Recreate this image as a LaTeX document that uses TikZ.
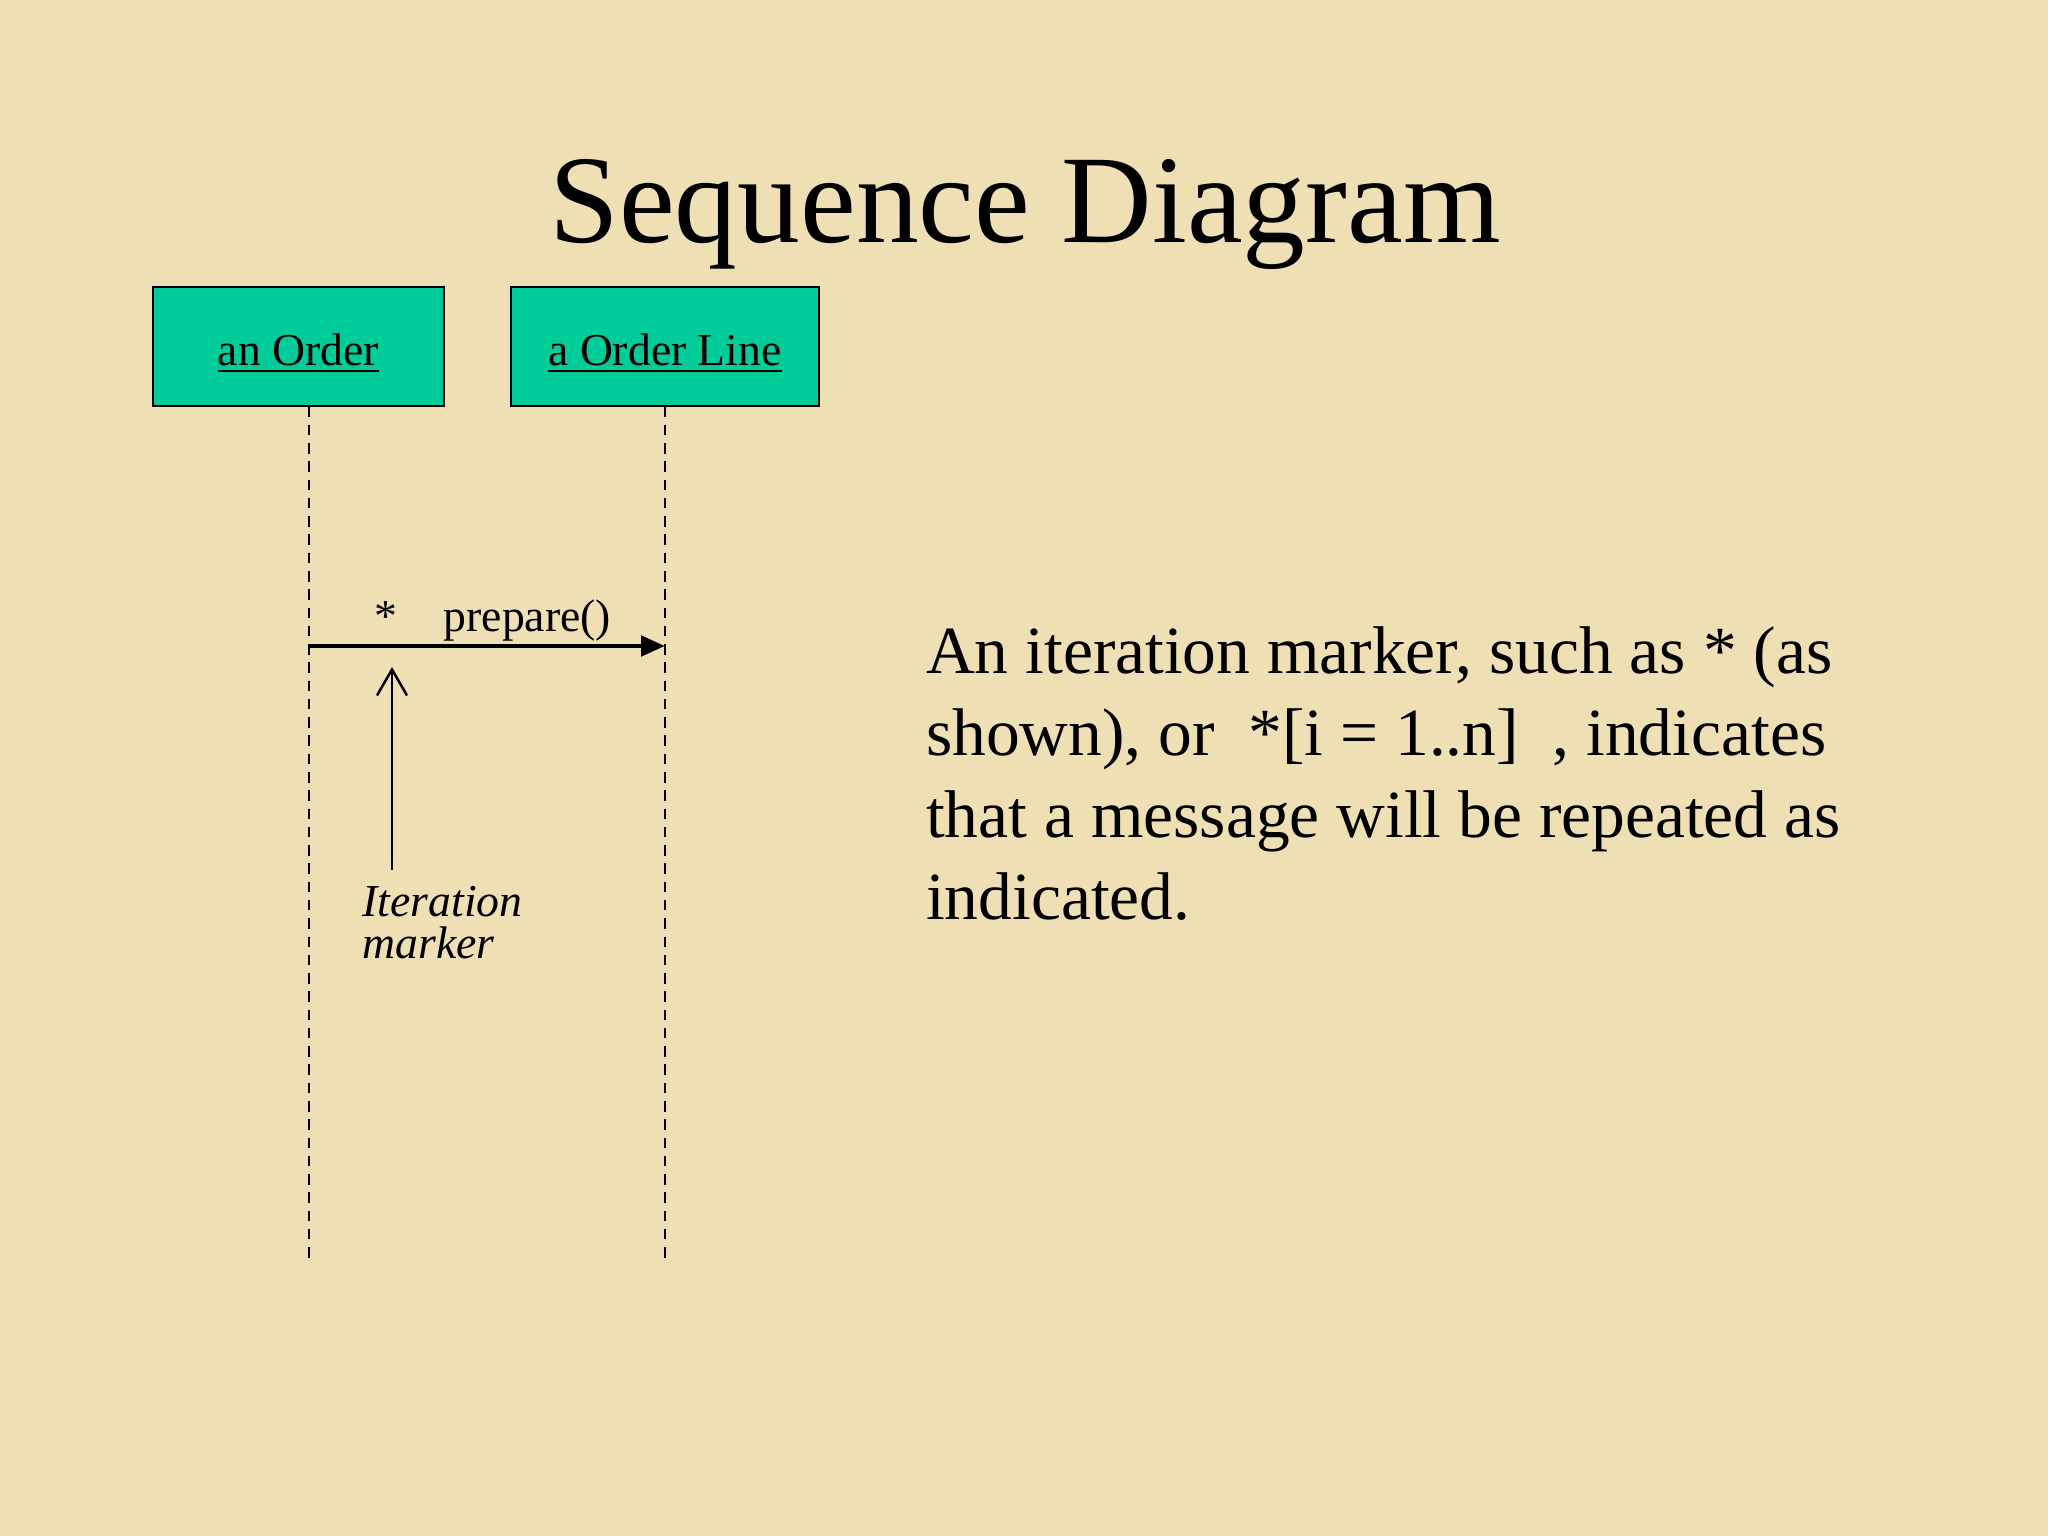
\documentclass[tikz,border=0pt]{standalone}
\usepackage{fontspec}
\setmainfont{Liberation Serif}
\usetikzlibrary{arrows.meta}
\definecolor{parchment}{RGB}{238,223,181}
\definecolor{objgreen}{RGB}{0,204,153}

\begin{document}
\begin{tikzpicture}[
	objbox/.style={draw,line width=0.8pt,fill=objgreen,minimum height=1.19cm,
		inner sep=0pt,font=\fontsize{13}{15}\selectfont},
	lifeline/.style={line width=0.6pt,dash pattern=on 3pt off 2.2pt},
	msg/.style={line width=1.4pt,-{Triangle[length=2.4mm,width=2mm]}},
	pointer/.style={line width=0.7pt,-{Straight Barb[length=2.6mm,width=3mm]}}
	]
	\fill[parchment] (0,0) rectangle (20.48,-15.36);
	\useasboundingbox (0,0) rectangle (20.48,-15.36);
		%
	\node[anchor=base,font=\fontsize{35.7}{40}\selectfont] (title) at (10.25,-2.43) {Sequence Diagram};
	\node[objbox,minimum width=2.91cm] (order) at (2.985,-3.465)
		{\raisebox{-0.07cm}[\height][\depth]{\underline{an Order}}};
	\node[objbox,minimum width=3.08cm] (line) at (6.65,-3.465)
		{\raisebox{-0.07cm}[\height][\depth]{\underline{a Order Line}}};
		%
	\coordinate (orderTop) at (3.09,-4.065);
	\coordinate (orderEnd) at (3.09,-12.6);
	\coordinate (lineTop) at (6.65,-4.065);
	\coordinate (lineEnd) at (6.65,-12.6);
	\coordinate (msgA) at (3.09,-6.46);
	\coordinate (msgB) at (6.65,-6.46);
	\coordinate (starTip) at (3.92,-6.67);
	\coordinate (starTail) at (3.92,-8.70);
		%
	\node[font=\fontsize{13}{15}\selectfont,anchor=base] (star) at (3.86,-6.32) {*};
	\node[font=\fontsize{13}{15}\selectfont,anchor=base west,inner sep=0pt] (prep) at (4.43,-6.32) {prepare()};
	\node[font=\fontsize{13}{11.7}\selectfont\itshape,align=left,anchor=north west,inner sep=0pt]
		(itlabel) at (3.62,-8.86) {Iteration\\marker};
	\node[font=\fontsize{19.2}{23.3}\selectfont,align=left,anchor=north west,inner sep=0pt]
		(note) at (9.255,-6.26) {An iteration marker, such as * (as\\
		shown), or~ *[i = 1..n]~ , indicates\\
		that a message will be repeated as\\
		indicated.};
		%
	\path (orderTop) edge[lifeline] (orderEnd)
		(lineTop) edge[lifeline] (lineEnd)
		(msgA) edge[msg] (msgB)
		(starTail) edge[pointer] (starTip);
\end{tikzpicture}
\end{document}
